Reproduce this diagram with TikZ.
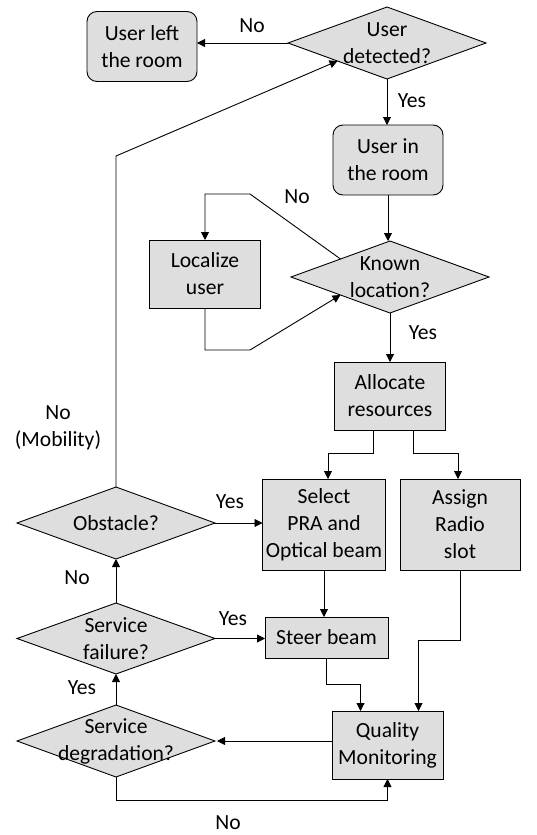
\documentclass[tikz,border=0pt]{standalone}
\usepackage{fontspec}
\setmainfont{Carlito}
\usetikzlibrary{shapes.geometric,arrows.meta}

\tikzset{
  block/.style={draw, fill=black!13, line width=0.9pt, align=center, inner sep=2pt, outer sep=0pt},
  terminal/.style={block, rounded corners=10pt, minimum width=110pt, minimum height=70pt},
  proc/.style={block, minimum width=111pt, minimum height=68pt},
  decision/.style={block, diamond, minimum width=198pt, minimum height=72pt, inner sep=0pt,
    label={[align=center]center:#1}},
  arr/.style={-{Triangle[length=8pt,width=8pt]}, line width=0.9pt},
  lbl/.style={align=center}
}

\begin{document}
\begin{tikzpicture}[x=1pt, y=-1pt, font=\fontsize{21.6}{27}\selectfont]
  \useasboundingbox (0,0) rectangle (537,835);

  \node[terminal] (left) at (142,46.5) {User left\\the room};
  \node[decision={User\\detected?}] (det) at (387,43) {};
  \node[terminal] (room) at (388,160) {User in\\the room};
  \node[decision={Known\\location?}] (kno) at (390,277) {};
  \node[proc] (loc) at (205,274) {Localize\\user};
  \node[proc] (all) at (390,396) {Allocate\\resources};
  \node[proc, minimum width=123pt, minimum height=91pt] (sel) at (324,524.5) {Select\\PRA and\\Optical beam};
  \node[proc, minimum width=120pt, minimum height=91pt] (asg) at (460,524.5) {Assign\\Radio\\slot};
  \node[decision={Obstacle?}] (obs) at (116,523) {};
  \node[decision={Service\\failure?}, minimum height=71pt] (fail) at (116,638.5) {};
  \node[proc, minimum width=123pt, minimum height=41pt] (steer) at (326.5,637.5) {Steer beam};
  \node[proc] (qua) at (387.5,745) {Quality\\Monitoring};
  \node[decision={Service\\degradation?}] (deg) at (116,741) {};

  \draw[arr] (det.west) -- (det.west -| left.east);
  \draw[arr] (det.south) -- (det.south |- room.north);
  \draw[arr] (room.south) -- (room.south |- kno.north);
  \draw[arr] (kno.north west) -- (250,194) -| (loc.north);
  \draw[arr] (loc.south) -- ++(0,42) -- ++(45,0) -- (kno.south west);
  \draw[arr] (kno.south) -- (kno.south |- all.north);
  \draw[arr] ([xshift=-17pt]all.south) -- ++(0,23) -| ([xshift=4pt]sel.north);
  \draw[arr] ([xshift=23pt]all.south) -- ++(0,23) -| ([xshift=-2pt]asg.north);
  \draw[arr] (obs.east) -- (obs.east -| sel.west);
  \draw[arr] (obs.north) -- (116,156) -- (det.south west);
  \draw[arr] (sel.south) -- (sel.south |- steer.north);
  \draw[arr] (fail.north) -- (obs.south);
  \draw[arr] (fail.east) -- (fail.east -| steer.west);
  \draw[arr] (steer.south) -- ++(0,26) -| ([xshift=-27pt]qua.north);
  \draw[arr] (asg.south) -- ++(0,70) -| ([xshift=31pt]qua.north);
  \draw[arr] (qua.west |- deg.east) -- ([xshift=2pt]deg.east);
  \draw[arr] (deg.north) -- (fail.south);
  \draw[arr] (deg.south) -- ++(0,23) -| (qua.south);

  \node[lbl] (ndet) at (252,26) {No};
  \node[lbl] (ydet) at (412,101) {Yes};
  \node[lbl] (nkno) at (297,197) {No};
  \node[lbl] (ykno) at (423,333) {Yes};
  \node[lbl] (nobs) at (58,428) {No\\(Mobility)};
  \node[lbl] (yobs) at (230,502) {Yes};
  \node[lbl] (nfail) at (77,578) {No};
  \node[lbl] (yfail) at (233,619) {Yes};
  \node[lbl] (ydeg) at (82,688) {Yes};
  \node[lbl] (ndeg) at (228,823) {No};
\end{tikzpicture}
\end{document}
